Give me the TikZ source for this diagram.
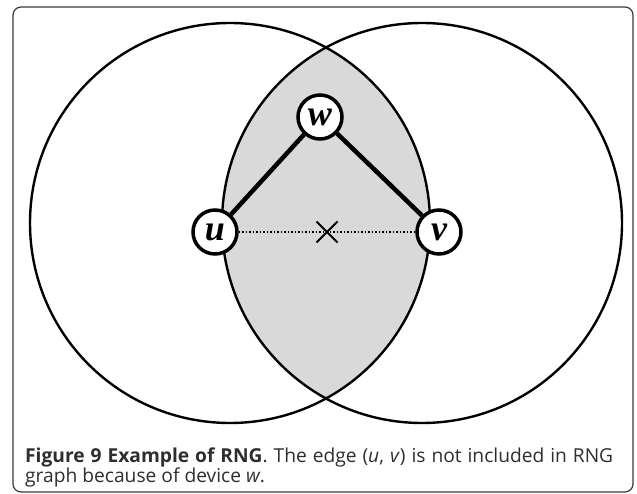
\documentclass[tikz,border=0pt]{standalone}
\usepackage{fontspec}
\setmainfont{Liberation Serif}
\newfontfamily\capfont{Open Sans}
\usetikzlibrary{shapes.misc}
\definecolor{lensgray}{HTML}{D9D9D9}
\definecolor{framegray}{HTML}{3A3A3A}
\definecolor{captext}{HTML}{2E2E2E}
\tikzset{
  device/.style={circle, draw, line width=3.5pt, fill=white, inner sep=0pt,
    minimum size=44pt, font=\fontsize{36}{36}\selectfont\bfseries\itshape},
  link/.style={line width=4.5pt},
}
\begin{document}
\begin{tikzpicture}[x=1pt, y=-1pt]
    \useasboundingbox (0, 0) rectangle (637, 494);
    \draw[framegray, line width=1.2pt, rounded corners=8pt] (13, 7) rectangle (633, 492);
    \path[save path=\leftdisc] (230, 223) circle[radius=200];
    \path[save path=\rightdisc] (422, 223) circle[radius=200];
    \begin{scope}
      \path[clip][use path=\leftdisc];
      \fill[lensgray][use path=\rightdisc];
    \end{scope}
    \draw[line width=2.4pt][use path=\leftdisc];
    \draw[line width=2.4pt][use path=\rightdisc];
    % devices
    \node[device] (u) at (215, 232) {u};
    \node[device] (v) at (439, 232) {v};
    \node[device] (w) at (320, 117) {w};
    \draw[link] (u) -- (w);
    \draw[link] (w) -- (v);
    \draw[dotted, line width=1.5pt] (u) -- (v);
    \node[cross out, draw, line width=2pt, minimum size=19pt] (cut) at (327, 232) {};
    \node[anchor=north west, text width=588pt, align=justify, inner sep=0pt, text=captext,
      font=\capfont\fontsize{19.2}{19.5}\selectfont] (caption) at (25, 448)
      {\hyphenpenalty=10000\relax{\bfseries Figure 9 Example of RNG}. The edge (\textit{u}, \textit{v}) is not included in RNG graph because of device \textit{w}.};
  \end{tikzpicture}
\end{document}
